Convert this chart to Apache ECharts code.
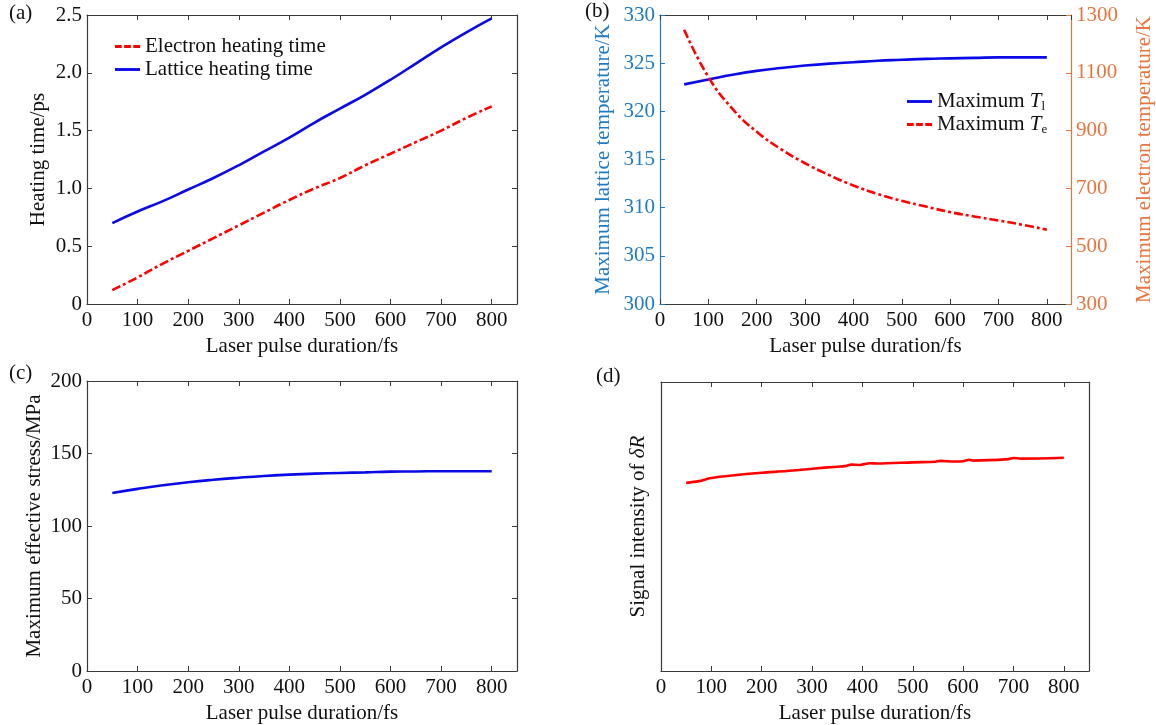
<!DOCTYPE html>
<html>
<head>
<meta charset="utf-8">
<script src="https://cdn.jsdelivr.net/npm/echarts@6/dist/echarts.min.js"></script>
<style>
  html, body { margin: 0; background: #fff; }
  #main { width: 1156px; height: 725px; }
</style>
</head>
<body>
<div id="main"></div>
<script>
// pulse duration (fs)
var pulse = [50, 100, 150, 200, 250, 300, 350, 400, 450, 500, 550, 600, 650, 700, 750, 800];

// (a) heating time, ps
var electronTime = [0.12, 0.23, 0.35, 0.46, 0.57, 0.68, 0.79, 0.90, 1.00, 1.09, 1.20, 1.30, 1.40, 1.50, 1.61, 1.71];
var latticeTime = [0.70, 0.80, 0.89, 0.99, 1.09, 1.20, 1.32, 1.44, 1.57, 1.69, 1.81, 1.94, 2.08, 2.22, 2.35, 2.47];

// (b) max temperatures, K
var maxTl = [322.8, 323.3, 323.8, 324.2, 324.5, 324.75, 324.95, 325.1, 325.25, 325.35, 325.45, 325.5, 325.55, 325.6, 325.6, 325.6];
var maxTe = [1249, 1086, 975, 896, 836, 787, 746, 710, 681, 657, 637, 618, 603, 589, 574, 557];

// (c) max effective stress, MPa
var maxStress = [122.8, 125.6, 128.1, 130.2, 131.9, 133.3, 134.5, 135.4, 136.1, 136.6, 137.0, 137.5, 137.6, 137.8, 137.8, 137.8];

// (d) signal intensity (arbitrary units)
var signalPulse = [50, 75, 100, 150, 200, 250, 300, 350, 365, 378, 395, 415, 430, 500, 545, 555, 580, 600, 612, 620, 690, 700, 715, 800];
var signalDR = [0.651, 0.657, 0.668, 0.678, 0.686, 0.692, 0.700, 0.707, 0.709, 0.714, 0.713, 0.719, 0.718, 0.722, 0.724, 0.727, 0.725, 0.726, 0.731, 0.728, 0.733, 0.737, 0.735, 0.738];

var FONT = "Liberation Serif";
var FS = 21;
var DARK = "#3a3a3a";
var BLUE_AX = "#1f7bc2";
var ORANGE_AX = "#e8743f";
var LINE_BLUE = "#0a0ae6";
var LINE_RED = "#ff0000";
var DASHDOT = [9, 3, 3, 3];

// legend samples drawn as thin bars
var ICON_SOLID = "path://M0,0h26v3h-26z";
var ICON_DASHDOT = "path://M0,0h7v3h-7zM9.5,0h7v3h-7zM19,0h7v3h-7z";

function pairs(xs, ys) {
  return xs.map(function(x, i) { return [x, ys[i]]; });
}

function xAxis(grid, top) {
  return {
    type: "value", gridIndex: grid, position: top ? "top" : "bottom",
    min: 0, max: 850, interval: 100,
    axisLine: { show: true, onZero: false, lineStyle: { color: DARK, width: 1.2 } },
    axisTick: { show: true, inside: true, length: 5, lineStyle: { color: DARK } },
    axisLabel: { show: !top, margin: 6, color: "#111", fontSize: FS, fontFamily: FONT, showMaxLabel: false },
    splitLine: { show: false },
    name: top ? "" : "Laser pulse duration/fs",
    nameLocation: "middle", nameGap: 32,
    nameTextStyle: { color: "#111", fontSize: FS, fontFamily: FONT }
  };
}

function yAxis(grid, right, opt) {
  var color = opt.color || DARK;
  var lblColor = opt.color || "#111";
  return {
    type: "value", gridIndex: grid, position: right ? "right" : "left",
    min: opt.min, max: opt.max, interval: opt.interval,
    axisLine: { show: true, onZero: false, lineStyle: { color: color, width: 1.2 } },
    axisTick: { show: opt.ticks !== false, inside: true, length: 5, lineStyle: { color: color } },
    axisLabel: {
      show: !!opt.labels, margin: 5, color: lblColor, fontSize: FS, fontFamily: FONT,
      formatter: opt.fmt || function(v) { return String(v); }
    },
    splitLine: { show: false },
    name: opt.name || "", nameLocation: "middle", nameGap: opt.gap || 40, nameRotate: 90,
    nameTextStyle: {
      color: lblColor, fontSize: FS, fontFamily: FONT,
      rich: {
        a: { fontSize: FS, fontFamily: FONT, color: lblColor },
        i: { fontSize: FS, fontFamily: FONT, color: lblColor, fontStyle: "italic" }
      }
    }
  };
}

var chart = echarts.init(document.getElementById("main"));

var option = {
  backgroundColor: "#fff",
  animation: false,
  textStyle: { fontFamily: FONT },
  grid: [
    { left: 87, top: 15, width: 430, height: 289 },
    { left: 660, top: 15, width: 411, height: 289 },
    { left: 87, top: 381, width: 430, height: 291 },
    { left: 661, top: 382, width: 428, height: 290 }
  ],
  xAxis: [
    xAxis(0, false), xAxis(0, true),
    xAxis(1, false), xAxis(1, true),
    xAxis(2, false), xAxis(2, true),
    xAxis(3, false), xAxis(3, true)
  ],
  yAxis: [
    yAxis(0, false, { min: 0, max: 2.5, interval: 0.5, labels: true, name: "Heating time/ps", gap: 38,
      fmt: function(v) { return v === 0 ? "0" : v.toFixed(1); } }),
    yAxis(0, true, { min: 0, max: 2.5, interval: 0.5 }),
    yAxis(1, false, { min: 300, max: 330, interval: 5, labels: true, color: BLUE_AX, name: "Maximum lattice temperature/K", gap: 46 }),
    yAxis(1, true, { min: 300, max: 1300, interval: 200, labels: true, color: ORANGE_AX, name: "Maximum electron temperature/K", gap: 63 }),
    yAxis(2, false, { min: 0, max: 200, interval: 50, labels: true, name: "Maximum effective stress/MPa", gap: 42 }),
    yAxis(2, true, { min: 0, max: 200, interval: 50 }),
    yAxis(3, false, { min: 0, max: 1, interval: 0.25, ticks: false, name: "{a|Signal intensity of }{i|δR}", gap: 12 }),
    yAxis(3, true, { min: 0, max: 1, interval: 0.25, ticks: false })
  ],
  legend: [
    {
      orient: "vertical", left: 110, top: 31, itemWidth: 25, itemHeight: 3, itemGap: 2,
      data: [
        { name: "Electron heating time", icon: ICON_DASHDOT },
        { name: "Lattice heating time", icon: ICON_SOLID }
      ],
      textStyle: { color: "#111", fontSize: FS, fontFamily: FONT }
    },
    {
      orient: "vertical", left: 902, top: 86, itemWidth: 25, itemHeight: 3, itemGap: 1,
      data: [
        { name: "Maximum Tl", icon: ICON_SOLID },
        { name: "Maximum Te", icon: ICON_DASHDOT }
      ],
      formatter: function(name) {
        return name === "Maximum Tl" ? "{a|Maximum }{i|T}{s|l}" : "{a|Maximum }{i|T}{s|e}";
      },
      textStyle: {
        color: "#111", fontSize: FS, fontFamily: FONT,
        rich: {
          a: { fontSize: FS, fontFamily: FONT, color: "#111" },
          i: { fontSize: FS, fontFamily: FONT, color: "#111", fontStyle: "italic" },
          s: { fontSize: 13, fontFamily: FONT, color: "#111", padding: [10, 0, 0, 0] }
        }
      }
    }
  ],
  series: [
    {
      name: "Electron heating time", type: "line", xAxisIndex: 0, yAxisIndex: 0,
      data: pairs(pulse, electronTime), symbol: "none", smooth: true,
      lineStyle: { color: LINE_RED, width: 2.6, type: DASHDOT }, itemStyle: { color: LINE_RED }
    },
    {
      name: "Lattice heating time", type: "line", xAxisIndex: 0, yAxisIndex: 0,
      data: pairs(pulse, latticeTime), symbol: "none", smooth: true,
      lineStyle: { color: LINE_BLUE, width: 2.6 }, itemStyle: { color: LINE_BLUE }
    },
    {
      name: "Maximum Tl", type: "line", xAxisIndex: 2, yAxisIndex: 2,
      data: pairs(pulse, maxTl), symbol: "none", smooth: true,
      lineStyle: { color: LINE_BLUE, width: 2.6 }, itemStyle: { color: LINE_BLUE }
    },
    {
      name: "Maximum Te", type: "line", xAxisIndex: 2, yAxisIndex: 3,
      data: pairs(pulse, maxTe), symbol: "none", smooth: true,
      lineStyle: { color: LINE_RED, width: 2.6, type: DASHDOT }, itemStyle: { color: LINE_RED }
    },
    {
      name: "Stress", type: "line", xAxisIndex: 4, yAxisIndex: 4,
      data: pairs(pulse, maxStress), symbol: "none", smooth: true,
      lineStyle: { color: LINE_BLUE, width: 2.6 }, itemStyle: { color: LINE_BLUE }
    },
    {
      name: "Signal", type: "line", xAxisIndex: 6, yAxisIndex: 6,
      data: pairs(signalPulse, signalDR), symbol: "none", smooth: 0.3,
      lineStyle: { color: LINE_RED, width: 2.6 }, itemStyle: { color: LINE_RED }
    }
  ],
  graphic: [
    { type: "text", left: 9, top: 3, style: { text: "(a)", fontSize: FS, fontFamily: FONT, fill: "#111" } },
    { type: "text", left: 585, top: 1, style: { text: "(b)", fontSize: FS, fontFamily: FONT, fill: "#111" } },
    { type: "text", left: 9, top: 363, style: { text: "(c)", fontSize: FS, fontFamily: FONT, fill: "#111" } },
    { type: "text", left: 596, top: 366, style: { text: "(d)", fontSize: FS, fontFamily: FONT, fill: "#111" } }
  ]
};

chart.setOption(option);
</script>
</body>
</html>
